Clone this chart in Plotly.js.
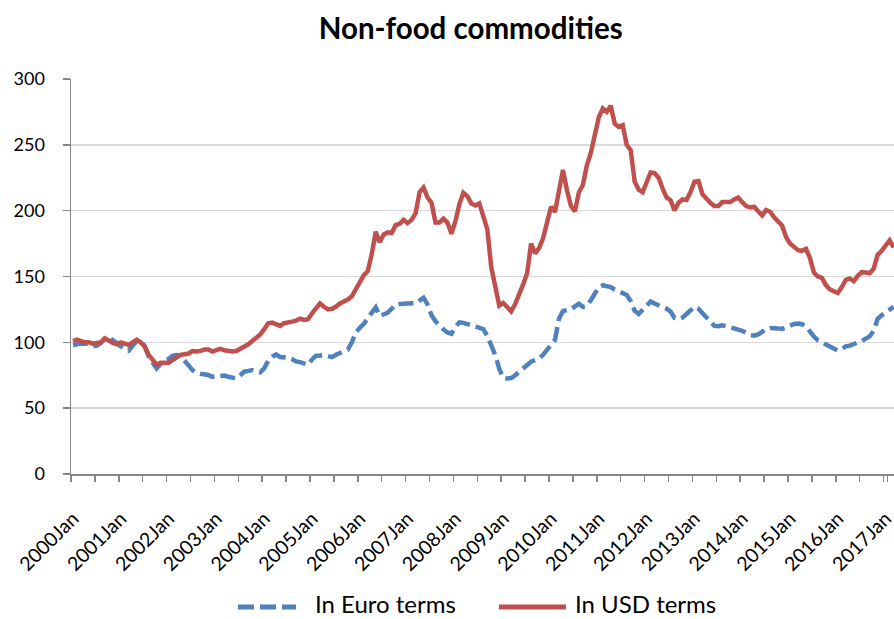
<!DOCTYPE html>
<html>
<head>
<meta charset="utf-8">
<script src="https://cdn.plot.ly/plotly-3.0.1.min.js"></script>
<style>html,body{margin:0;padding:0;background:#fff;}#chart{width:894px;height:619px;}</style>
</head>
<body>
<div id="chart"></div>
<script>
// ---- data ----
var years = ["2000","2001","2002","2003","2004","2005","2006","2007","2008","2009","2010","2011","2012","2013","2014","2015","2016","2017"];
var monthNames = ["Jan","Feb","Mar","Apr","May","Jun","Jul","Aug","Sep","Oct","Nov","Dec"];
var nMonths = 207; // 2000Jan .. 2017Mar

var euroTerms = [
 98,98.7,99,99,98.5,97,97.5,99.5,103,103.8,102,99.5,
 97,95,93.7,97.5,101,101.5,97,89,84,80.2,83.5,85.2,
 87.5,89.8,90.4,89.5,86.5,82.5,79,76.8,76.1,75.8,75.2,73.8,
 74,75,74.8,73.8,72.8,72.6,75,77.7,78.3,79,78,77.2,
 80.2,86,89,90.8,88.8,88.8,88.4,87.2,85.5,85,84,83,
 87,89.8,90,90.4,89.5,88.8,90.6,92,92.7,94.5,100,107.5,
 111,114,118.5,123,126.5,120,121,122.5,125.5,128.8,129.2,129.6,
 129.6,129.6,129.6,132,133.9,128.8,120.5,116,112.5,109.8,107.5,106.5,
 112,115.2,114.8,113.8,113,112.6,111.6,110,105,98.5,90.3,80,
 73,72.6,72.8,75,77.3,80.2,82.8,85.3,86.9,87.6,90.5,94.1,
 97.8,102,118,123.8,124.5,125,127.3,129.3,127,127.5,132,136.8,
 142,143.3,142.5,141.9,140,138.6,137.5,136,131.3,124,121.5,124.6,
 128,131,129.5,128.4,127,125.5,123.3,118.5,117.5,118.8,121.5,124.5,
 127,125.5,122.3,119,115.5,112.5,112.2,113,112.2,111.4,111,110,
 108.8,107.2,105.6,105,106,108,110.2,110.9,111.1,110.6,110.2,111.5,
 113.2,114,114.3,113.8,112,108,104.4,101.5,100,98.5,96.5,95,
 93.8,95,97,97.5,98.5,100,101,102.8,104.5,108.9,117.8,120.5,
 122.5,124.7,127
];

var usdTerms = [
 101,102,101,100,100,99,99.5,100,103,101,99.5,98.5,
 100,99,98,100,102,100,97,90.5,86,83,84.5,84.5,
 84.5,86.5,89,90.5,91,91.5,93.4,93,93.5,94.5,94.5,93,
 94,95,94,93.5,93,93.4,95,96.5,98.5,101,103,106,
 110,114.5,115,114,112.5,114.5,115.5,115.7,116.5,118,117,117.5,
 122,126,129.5,127,125,125.5,127,129.5,131,132.5,135,140,
 146.5,151,154,167,184,176,182,183.5,183,189,190,193,
 190.5,193,198,214,217.5,210,206,191,191,194,191,182.5,
 192,205,213.5,211,205.5,204,205.5,197,186,157,142,128,
 130,127,123.5,129,136,144,152.5,175,167.5,171.5,179,190,
 203,199,214,231,215.5,203.5,199.5,214,219.5,234.5,244,257,
 271,277.7,275,279.7,266,263.7,265,250,246,222,216,214,
 222,229,228.5,225,217,210,208,200.2,206,208.5,208,214,
 222,222.5,212.5,209,206,203.5,203.5,206.5,206.5,206.5,208.5,210,
 206.5,203.5,202.5,203,199.5,196.4,200.5,199.2,195,191.5,188.8,180,
 175,172.5,170,169.5,171,164,153,150,149,143.5,140.2,138.8,
 137.5,142,147.5,148.5,146.4,150.5,153.3,153,152.5,156,166.5,169.5,
 174,177.5,172
];

var seriesNames = ["In Euro terms", "In USD terms"];
var seriesColors = ["#4F81BD", "#C0504D"];

// category labels
var categories = [];
for (var y = 0; y < years.length; y++) {
  for (var m = 0; m < 12; m++) {
    if (categories.length < nMonths) categories.push(years[y] + monthNames[m]);
  }
}
// ticks every 6 months, labels every 12
var tickVals = [], tickText = [];
for (var k = 0; k < categories.length; k += 6) {
  tickVals.push(categories[k]);
  tickText.push(k % 12 === 0 ? categories[k] : "");
}

var FONT = "Lato, 'Open Sans', sans-serif";
var EURO_DASH = "15px,6px";

var traces = [
  {
    x: categories, y: euroTerms, name: seriesNames[0], type: "scatter", mode: "lines",
    line: {color: seriesColors[0], width: 4.5, dash: EURO_DASH}
  },
  {
    x: categories, y: usdTerms, name: seriesNames[1], type: "scatter", mode: "lines",
    line: {color: seriesColors[1], width: 4.5}
  }
];

// legend drawn below the chart (paper coordinates of the plot area: 71..894 x, 474..79 y)
var LEG_SYM_Y = -0.337;
var LEG_TXT_Y = -0.329;
var legendShapes = [
  {type: "line", xref: "paper", yref: "paper", x0: 0.2029, x1: 0.2734, y0: LEG_SYM_Y, y1: LEG_SYM_Y,
   line: {color: seriesColors[0], width: 5, dash: "16px,6px"}},
  {type: "line", xref: "paper", yref: "paper", x0: 0.520, x1: 0.6015, y0: LEG_SYM_Y, y1: LEG_SYM_Y,
   line: {color: seriesColors[1], width: 5}}
];
var legendTexts = [
  {text: seriesNames[0], xref: "paper", yref: "paper", x: 0.2953, y: LEG_TXT_Y, xanchor: "left", yanchor: "middle",
   showarrow: false, borderpad: 0, font: {family: FONT, size: 24, color: "#000"}},
  {text: seriesNames[1], xref: "paper", yref: "paper", x: 0.6112, y: LEG_TXT_Y, xanchor: "left", yanchor: "middle",
   showarrow: false, borderpad: 0, font: {family: FONT, size: 24, color: "#000"}}
];

var layout = {
  width: 894, height: 619,
  margin: {l: 71, r: 0, t: 79, b: 145},
  paper_bgcolor: "#fff", plot_bgcolor: "#fff",
  font: {family: FONT, size: 18, color: "#000"},
  title: {
    text: "<b>Non-food commodities</b>",
    font: {family: FONT, size: 29.5, color: "#000"},
    x: 0.5265, xref: "container", xanchor: "center",
    y: 1 - 29/619, yref: "container", yanchor: "middle"
  },
  xaxis: {
    type: "category",
    range: [-0.5, 206.1],
    tickmode: "array", tickvals: tickVals, ticktext: tickText,
    tickson: "boundaries",
    tickangle: -45,
    ticks: "outside", ticklen: 6, tickcolor: "#868686", tickwidth: 1.5,
    showline: true, linecolor: "#868686", linewidth: 1.5,
    showgrid: false, zeroline: false,
    tickfont: {family: FONT, size: 19.5, color: "#000"},
    ticklabelstandoff: 24
  },
  yaxis: {
    range: [0, 300], dtick: 50, tick0: 0,
    ticks: "outside", ticklen: 7, tickcolor: "#868686", tickwidth: 1.5,
    showline: true, linecolor: "#868686", linewidth: 1.5,
    showgrid: true, gridcolor: "#d9d9d9", gridwidth: 1.5,
    zeroline: false,
    tickfont: {family: FONT, size: 18, color: "#000"},
    ticklabelstandoff: 14
  },
  showlegend: false,
  shapes: legendShapes,
  annotations: legendTexts
};

Plotly.newPlot("chart", traces, layout, {displayModeBar: false, staticPlot: true});
</script>
</body>
</html>
